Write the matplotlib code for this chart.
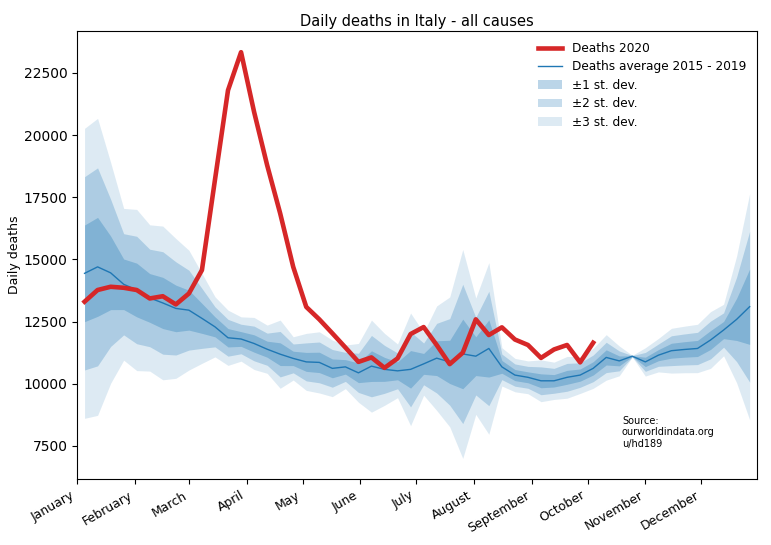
import numpy as np
import pandas as pd
import matplotlib
matplotlib.use("Agg")
import matplotlib.pyplot as plt
import matplotlib.dates as mdates

# weekly values, week ending dates in 2020
weeks = pd.date_range("2020-01-05", periods=52, freq="7D")

deaths_2020 = [13300, 13770, 13900, 13860, 13770, 13430, 13520, 13190, 13630, 14570,
               18200, 21800, 23330, 20930, 18790, 16850, 14700, 13090, 12590, 12030,
               11460, 10880, 11060, 10640, 11020, 12000, 12280, 11560, 10790, 11250,
               12590, 11960, 12270, 11780, 11560, 11040, 11380, 11560, 10860, 11650]

avg_2015_2019 = [14440, 14700, 14460, 14000, 13770, 13450, 13250, 13030, 12960, 12630,
                 12290, 11850, 11800, 11620, 11390, 11190, 11020, 10880, 10860, 10620,
                 10680, 10440, 10710, 10580, 10520, 10580, 10800, 11030, 10880, 11200,
                 11110, 11420, 10680, 10350, 10260, 10120, 10120, 10260, 10350, 10620,
                 11060, 10920, 11110, 10880, 11150, 11330, 11380, 11420, 11760, 12160,
                 12590, 13100]

std_2015_2019 = [1943, 1990, 1480, 1017, 1080, 980, 1030, 937, 803, 603,
                 403, 370, 297, 349, 323, 457, 290, 382, 410, 379,
                 292, 394, 617, 482, 360, 755, 420, 700, 870, 1400,
                 780, 1150, 257, 224, 220, 280, 250, 280, 246, 268,
                 305, 200, 12, 190, 224, 300, 312, 324, 380, 345,
                 850, 1517]

mean = np.array(avg_2015_2019)
sd = np.array(std_2015_2019)

fig = plt.figure(figsize=(7.71, 5.45), dpi=100)
ax = fig.add_subplot(111)
fig.subplots_adjust(left=0.1, right=0.982, top=0.943, bottom=0.121)

ax.plot(weeks[:len(deaths_2020)], deaths_2020, color="#d62728", lw=3.3, label="Deaths 2020", zorder=5)
ax.plot(weeks, mean, color="#1f77b4", lw=1, label="Deaths average 2015 - 2019")
ax.fill_between(weeks, mean - sd, mean + sd, color="#1f77b4", alpha=0.3, lw=0, label="\u00b11 st. dev.")
ax.fill_between(weeks, mean - 2 * sd, mean + 2 * sd, color="#1f77b4", alpha=0.25, lw=0, label="\u00b12 st. dev.")
ax.fill_between(weeks, mean - 3 * sd, mean + 3 * sd, color="#1f77b4", alpha=0.15, lw=0, label="\u00b13 st. dev.")

ax.set_xlim(pd.Timestamp("2020-01-01"), pd.Timestamp("2020-12-31"))
ax.set_ylim(6170, 24180)
ax.xaxis.set_major_locator(mdates.MonthLocator())
ax.xaxis.set_major_formatter(mdates.DateFormatter("%B"))
plt.setp(ax.get_xticklabels(), rotation=30, ha="right", fontsize=9)

ax.set_title("Daily deaths in Italy - all causes", fontsize=10.5, pad=4)
ax.set_ylabel("Daily deaths", fontsize=9)
ax.yaxis.set_label_coords(-0.083, 0.5)
ax.legend(loc="upper right", frameon=False, fontsize=8.7, labelspacing=0.45, borderaxespad=0.5)
fig.text(622 / 771, 96 / 545, "Source:\nourworldindata.org\nu/hd189", fontsize=7, va="bottom")

fig.savefig("out.png", dpi=100)
